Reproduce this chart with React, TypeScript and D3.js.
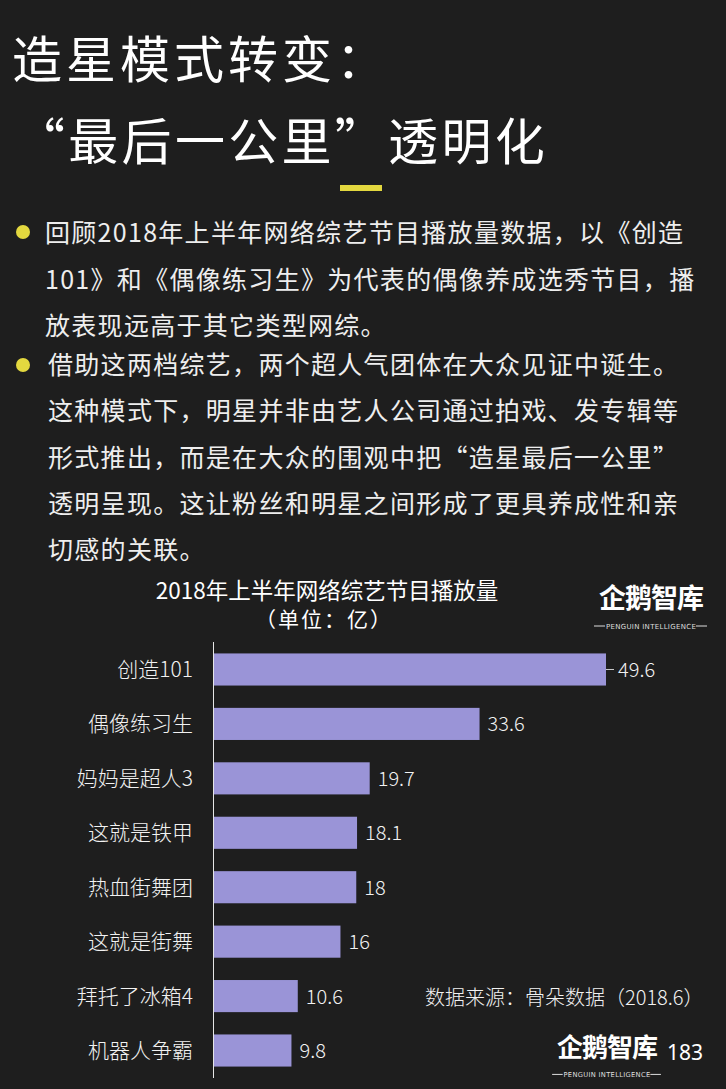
import React from "react";
import * as d3 from "d3";

const titleLines = ["造星模式转变：", "“最后一公里”透明化"];
const bullet1 = [
  "回顾2018年上半年网络综艺节目播放量数据，以《创造",
  "101》和《偶像练习生》为代表的偶像养成选秀节目，播",
  "放表现远高于其它类型网综。",
];
const bullet2 = [
  "借助这两档综艺，两个超人气团体在大众见证中诞生。",
  "这种模式下，明星并非由艺人公司通过拍戏、发专辑等",
  "形式推出，而是在大众的围观中把“造星最后一公里”",
  "透明呈现。这让粉丝和明星之间形成了更具养成性和亲",
  "切感的关联。",
];
const chartTitle = "2018年上半年网络综艺节目播放量";
const chartUnit = "（单位：亿）";
const categories = [
  "创造101",
  "偶像练习生",
  "妈妈是超人3",
  "这就是铁甲",
  "热血街舞团",
  "这就是街舞",
  "拜托了冰箱4",
  "机器人争霸",
];
const values = [49.6, 33.6, 19.7, 18.1, 18, 16, 10.6, 9.8];
const valueLabels = ["49.6", "33.6", "19.7", "18.1", "18", "16", "10.6", "9.8"];
const sourceText = "数据来源：骨朵数据（2018.6）";
const logoText = "企鹅智库";
const logoSub = "PENGUIN  INTELLIGENCE";
const pageNo = "183";

const W = 726;
const H = 1089;
const BG = "#1e1e1e";
const BAR = "#9a94d7";
const YELLOW = "#e3d83f";
const CJK = "'Noto Sans CJK SC', 'Noto Sans', sans-serif";

const x = d3.scaleLinear().domain([0, 49.6]).range([214, 606]);
const y = d3
  .scaleBand<string>()
  .domain(categories)
  .range([642, 1078])
  .paddingInner(0.41)
  .paddingOuter(0.21);

function Logo({ cx, top, size }: { cx: number; top: number; size: number }) {
  const s = size / 27;
  return (
    <g>
      <text
        x={cx}
        y={top + 25 * s}
        textAnchor="middle"
        fill="#ffffff"
        fontFamily={CJK}
        fontSize={27 * s}
        fontWeight={700}
        letterSpacing={-1}
      >
        {logoText}
      </text>
      <line x1={cx - 57 * s} x2={cx - 46 * s} y1={top + 43 * s} y2={top + 43 * s} stroke="#ddd" strokeWidth={1} />
      <line x1={cx + 45 * s} x2={cx + 56 * s} y1={top + 43 * s} y2={top + 43 * s} stroke="#ddd" strokeWidth={1} />
      <text
        x={cx}
        y={top + 45.5 * s}
        textAnchor="middle"
        fill="#dddddd"
        fontFamily="'DejaVu Sans', sans-serif"
        fontSize={7 * s}
        letterSpacing={0.3}
      >
        {logoSub}
      </text>
    </g>
  );
}

export default function App() {
  const bw = y.bandwidth();
  return (
    <svg
      width={W}
      height={H}
      viewBox={`0 0 ${W} ${H}`}
      style={{ position: "absolute", left: 0, top: 0, display: "block" }}
    >
      <rect x={0} y={0} width={W} height={H} fill={BG} />

      {/* Titles */}
      <text x={12} y={78} fill="#ffffff" fontFamily={CJK} fontSize={50} letterSpacing={4}>
        {titleLines[0]}
      </text>
      <text x={15} y={160} fill="#ffffff" fontFamily={CJK} fontSize={50} letterSpacing={3.3}>
        {titleLines[1]}
      </text>
      <rect x={340} y={185} width={42} height={6} fill={YELLOW} />

      {/* Bullets */}
      <circle cx={23} cy={232} r={7} fill={YELLOW} />
      {bullet1.map((t, i) => (
        <text
          key={"b1" + i}
          x={45}
          y={242 + i * 46.5}
          fill="#eeeeee"
          fontFamily={CJK}
          fontSize={25}
          letterSpacing={1.3}
        >
          {t}
        </text>
      ))}
      <circle cx={23} cy={365} r={7} fill={YELLOW} />
      {bullet2.map((t, i) => (
        <text
          key={"b2" + i}
          x={48}
          y={374 + i * 46.3}
          fill="#eeeeee"
          fontFamily={CJK}
          fontSize={25}
          letterSpacing={1.3}
        >
          {t}
        </text>
      ))}

      {/* Chart title */}
      <text x={327} y={599} textAnchor="middle" fill="#ffffff" fontFamily={CJK} fontSize={22.5}>
        {chartTitle}
      </text>
      <text x={324} y={627} textAnchor="middle" fill="#ffffff" fontFamily={CJK} fontSize={21} letterSpacing={2}>
        {chartUnit}
      </text>

      <Logo cx={651} top={583} size={27} />

      {/* Bars */}
      {categories.map((c, i) => {
        const yy = y(c)!;
        const cy = yy + bw / 2;
        const xe = x(values[i]);
        const first = i === 0;
        return (
          <g key={c}>
            <rect x={x(0)} y={yy} width={xe - x(0)} height={bw} fill={BAR} />
            <text
              x={193}
              y={cy + 7.5}
              textAnchor="end"
              fill="#f2f2f2"
              fontFamily={CJK}
              fontSize={21}
              fontWeight={300}
            >
              {c}
            </text>
            {first && <line x1={xe} x2={xe + 8} y1={cy} y2={cy} stroke="#cccccc" strokeWidth={1} />}
            <text
              x={xe + (first ? 12 : 8)}
              y={cy + 7.5}
              fill="#f2f2f2"
              fontFamily={CJK}
              fontSize={20}
              fontWeight={300}
            >
              {valueLabels[i]}
            </text>
          </g>
        );
      })}
      <line x1={213.5} x2={213.5} y1={642} y2={1078} stroke="#e6e6e6" strokeWidth={1} />

      {/* Source */}
      <text x={425} y={1005} fill="#f2f2f2" fontFamily={CJK} fontSize={20} fontWeight={300}>
        {sourceText}
      </text>

      <Logo cx={607} top={1033} size={26} />
      <text x={667} y={1060} fill="#ffffff" fontFamily="'Noto Sans', sans-serif" fontSize={21}>
        {pageNo}
      </text>
    </svg>
  );
}
